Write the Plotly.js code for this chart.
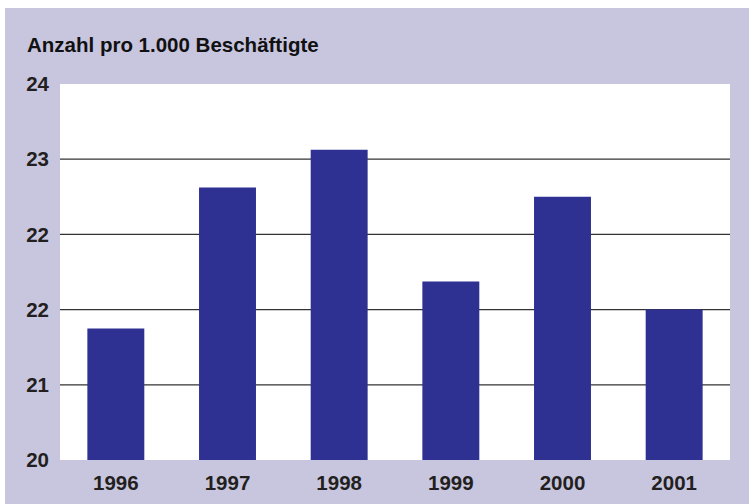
<!DOCTYPE html>
<html>
<head>
<meta charset="utf-8">
<script src="https://cdn.plot.ly/plotly-3.0.1.min.js"></script>
<style>html,body{margin:0;padding:0;background:#fff;}#chart{width:749px;height:504px;}</style>
</head>
<body>
<div id="chart"></div>
<script>
const years = ['1996', '1997', '1998', '1999', '2000', '2001'];
const values = [21.4, 22.9, 23.3, 21.9, 22.8, 21.6];
const tickVals = [20, 20.8, 21.6, 22.4, 23.2, 24];
const tickText = ['20', '21', '22', '22', '23', '24'];
const gridVals = [20.8, 21.6, 22.4, 23.2];
const titleText = 'Anzahl pro 1.000 Beschäftigte';

const W = 749, H = 504;
const m = {l: 60, r: 19, t: 84, b: 44};
const pw = W - m.l - m.r, ph = H - m.t - m.b;
const px = v => (v - m.l) / pw;
const py = v => (H - m.b - v) / ph;

const textColor = '#231f20';
const font = {family: 'Liberation Sans, Arial, sans-serif', size: 20.5, color: textColor, weight: 'bold'};

const shapes = [
  {type: 'rect', xref: 'paper', yref: 'paper', x0: px(5), x1: px(749), y0: py(504), y1: py(8),
   fillcolor: '#c8c6df', line: {width: 0}, layer: 'below'},
  {type: 'rect', xref: 'paper', yref: 'paper', x0: 0, x1: 1, y0: 0, y1: 1,
   fillcolor: '#ffffff', line: {width: 0}, layer: 'below'}
];
gridVals.forEach(v => shapes.push({
  type: 'line', xref: 'paper', yref: 'y', x0: 0, x1: 1, y0: v, y1: v,
  line: {color: '#333333', width: 1.2}, layer: 'below'
}));

const data = [{
  type: 'bar', x: years, y: values, base: 0,
  marker: {color: '#2e3192', line: {width: 0}},
  hoverinfo: 'none'
}];

const layout = {
  width: W, height: H,
  margin: m,
  paper_bgcolor: '#ffffff',
  plot_bgcolor: 'rgba(0,0,0,0)',
  showlegend: false,
  bargap: 0.49,
  title: {text: '<b>' + titleText + '</b>', font: {family: font.family, size: 20.5, color: '#111111'},
          x: 27 / W, xanchor: 'left', xref: 'container',
          y: 1 - 45 / H, yanchor: 'middle', yref: 'container'},
  xaxis: {type: 'category', showgrid: false, zeroline: false, showline: false, ticks: '',
          tickfont: font, ticklabelstandoff: 8},
  yaxis: {range: [20, 24], tickmode: 'array', tickvals: tickVals, ticktext: tickText,
          showgrid: false, zeroline: false, showline: false, ticks: '',
          tickfont: font, ticklabelstandoff: 10},
  shapes: shapes
};

Plotly.newPlot('chart', data, layout, {displayModeBar: false, staticPlot: true});
</script>
</body>
</html>
